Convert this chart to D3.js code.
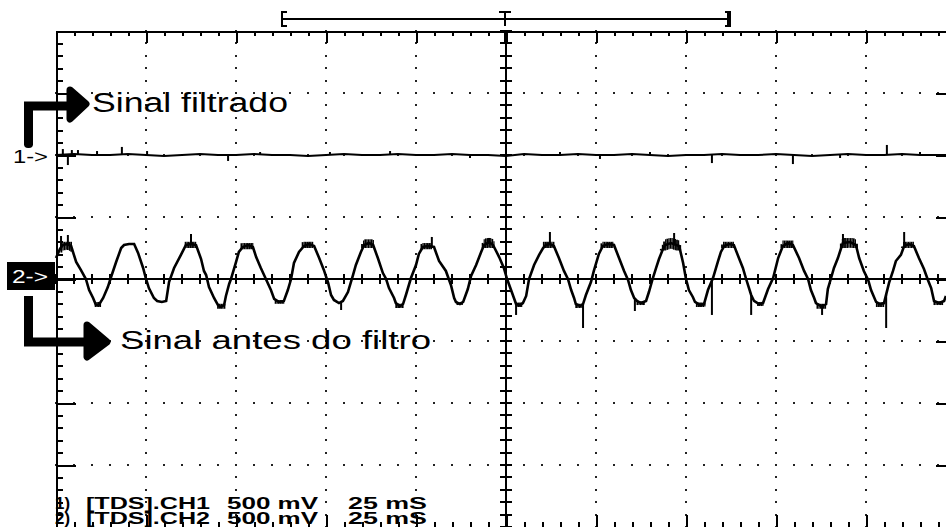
<!DOCTYPE html>
<html><head><meta charset="utf-8">
<script src="https://cdn.jsdelivr.net/npm/d3@7"></script>
<style>html,body{margin:0;padding:0;background:#fff;} svg{display:block;}</style>
</head><body>
<svg id="c" width="946" height="527"></svg>
<script>
// ---- data ----
// CH2 (signal before filter): [time ms, voltage mV]
const ch2Samples = [
[0.0,169],[1.1,242],[1.9,274],[3.1,282],[4.2,266],[5.6,137],[6.9,73],[8.3,0],[9.2,-89],[10.3,-153],[11.1,-210],[11.9,-210],[13.1,-153],[14.4,-65],[15.3,16],[16.7,137],[18.1,250],[18.9,274],[20.3,282],[21.7,282],[22.8,210],[24.2,89],[25.0,0],[25.8,-73],[27.2,-153],[28.1,-177],[29.4,-185],[30.6,-177],[31.4,-24],[32.8,89],[34.7,194],[36.1,274],[37.5,282],[38.9,274],[40.3,161],[41.1,65],[41.7,32],[42.5,-65],[43.9,-153],[45.0,-210],[45.8,-226],[46.7,-210],[47.2,-137],[48.1,-40],[48.6,0],[50.0,137],[50.8,218],[51.9,258],[53.3,274],[54.7,258],[55.6,177],[56.9,89],[58.3,0],[59.7,-89],[60.6,-161],[61.9,-185],[63.3,-177],[64.4,-89],[65.3,0],[66.1,129],[67.5,218],[68.9,266],[70.3,282],[71.7,266],[73.1,169],[74.4,73],[75.6,-32],[76.4,-129],[77.2,-169],[78.6,-194],[79.7,-177],[81.1,-105],[82.5,32],[83.3,113],[84.7,218],[85.6,274],[86.9,290],[88.1,274],[89.4,169],[90.8,48],[91.7,0],[92.5,-73],[93.9,-153],[94.4,-194],[95.6,-218],[96.4,-202],[97.2,-129],[98.6,8],[100.0,113],[100.8,202],[101.9,258],[103.3,266],[105.0,258],[106.4,145],[108.3,65],[109.7,-48],[110.6,-153],[111.1,-185],[112.2,-202],[113.1,-185],[114.4,-81],[115.3,24],[116.7,113],[118.1,218],[118.9,274],[120.3,298],[121.4,274],[123.1,177],[124.4,89],[125.3,0],[126.4,-89],[127.2,-153],[127.8,-202],[128.9,-210],[129.7,-194],[130.6,-137],[131.4,0],[132.8,113],[134.2,194],[135.3,250],[136.1,274],[137.2,282],[138.3,266],[139.7,169],[141.1,65],[142.2,0],[143.1,-89],[143.9,-153],[144.4,-202],[145.6,-218],[146.4,-202],[147.2,-129],[148.6,-24],[149.4,65],[150.8,202],[151.9,266],[153.3,282],[155.0,274],[156.4,169],[157.8,65],[158.9,-8],[159.7,-89],[160.6,-153],[161.4,-177],[162.5,-194],[163.9,-177],[164.7,-105],[165.8,8],[166.7,89],[167.5,161],[168.6,242],[169.2,274],[170.8,290],[173.1,266],[174.2,129],[175.0,0],[175.8,-89],[176.9,-145],[177.5,-185],[178.9,-210],[180.0,-202],[181.1,-89],[182.5,8],[183.9,145],[184.7,218],[185.6,266],[186.9,282],[188.3,274],[189.7,169],[190.8,89],[191.7,0],[193.1,-129],[193.9,-177],[195.3,-202],[196.4,-194],[197.8,-81],[199.2,8],[200.6,169],[201.9,266],[203.3,290],[204.7,274],[206.4,169],[207.8,65],[208.9,0],[209.7,-89],[210.6,-153],[211.1,-194],[212.5,-218],[213.9,-202],[214.4,-81],[215.3,8],[216.1,89],[217.2,169],[218.1,250],[218.6,290],[220.6,298],[222.2,274],[223.1,169],[224.4,65],[225.6,-8],[226.4,-89],[227.8,-185],[228.9,-202],[230.0,-194],[231.4,-32],[232.5,65],[233.3,145],[234.7,194],[235.6,266],[236.9,282],[238.3,266],[239.7,169],[241.1,81],[242.2,-8],[243.1,-73],[243.9,-177],[245.3,-194],[246.7,-177],[247.2,-137]
];
// CH2 glitch spikes: [time ms, tip voltage mV]
const ch2Spikes = [
[1.4,347],[3.3,355],[37.5,363],[79.2,-250],[95.3,-234],[104.4,339],[120.3,331],[127.8,-290],[137.2,379],[146.4,-395],[160.8,-258],[171.7,371],[182.2,-290],[193.1,-290],[212.8,-290],[218.6,363],[230.6,-395],[235.6,379]
];
// CH2 noise blobs (thick parts of the trace): [start ms, end ms, low mV, high mV]
const ch2Blobs = [
[1.5,4.5,210,300],[11.0,12.5,-226,-185],[36.0,39.0,250,300],[45.0,47.0,-240,-200],[51.5,55.0,240,290],[61.0,63.5,-200,-170],[68.5,71.5,250,300],[85.0,88.5,250,320],[94.5,96.5,-234,-200],[101.5,104.5,240,290],[111.5,113.0,-210,-185],[118.5,122.0,250,330],[128.0,129.5,-226,-190],[135.5,138.5,250,300],[144.5,146.5,-234,-200],[151.5,155.0,250,300],[161.5,163.5,-210,-180],[168.0,173.5,230,330],[178.0,180.5,-226,-190],[185.0,188.5,250,300],[195.0,196.5,-218,-185],[201.5,205.0,250,310],[211.5,214.0,-240,-200],[218.0,222.5,250,330],[228.0,230.0,-226,-190],[235.0,238.5,250,300],[244.0,246.5,-210,-180]
];
// CH1 (filtered signal), relative to its own ground: [time ms, mV]
const ch1Samples = [
[0,0],[5,8],[10,0],[15,0],[20,8],[25,0],[30,-8],[35,0],[40,8],[45,0],[50,0],[55,8],[60,0],[65,0],[70,-8],[75,0],[80,8],[85,0],[90,0],[95,8],[100,0],[105,0],[110,8],[115,0],[120,0],[125,-8],[130,8],[135,0],[140,0],[145,8],[150,0],[155,0],[160,8],[165,0],[170,-8],[175,0],[180,0],[185,8],[190,0],[195,0],[200,8],[205,0],[210,-8],[215,0],[220,8],[225,0],[230,0],[235,8],[240,0],[245,0],[250,0]
];
const ch1Spikes = [
[1.9,48],[3.3,-81],[4.4,40],[6.1,40],[11.4,32],[18.3,65],[25.3,32],[47.8,-48],[56.7,24],[76.1,24],[92.8,32],[115.0,-24],[140.0,24],[151.1,-32],[165.0,24],[182.2,-65],[204.7,-73],[217.8,-24],[230.8,81],[240.0,24]
];
const ch1OffsetDiv = 2;               // CH1 ground marker, divisions above centre
const mvPerDiv = 500;
const msPerDiv = 25;
const channelMarkers = ["1->", "2->"];
const traceLabels = ["Sinal filtrado", "Sinal antes do filtro"];
const statusLines = [
  ["1)", "[TDS].CH1", "500 mV", "25 mS"],
  ["2)", "[TDS].CH2", "500 mV", "25 mS"]
];

// ---- scales ----
const svg = d3.select("#c");
const x = d3.scaleLinear().domain([0, 10 * msPerDiv]).range([56, 956]);
const y = d3.scaleLinear().domain([-4 * mvPerDiv, 4 * mvPerDiv]).range([527, 31]);
const xMajor = d3.range(0, 10 * msPerDiv + 0.01, msPerDiv);
const xMinor = d3.range(0, 10 * msPerDiv + 0.01, msPerDiv / 5);
const yMajor = d3.range(-4 * mvPerDiv, 4 * mvPerDiv + 0.01, mvPerDiv);
const yMinor = d3.range(-4 * mvPerDiv, 4 * mvPerDiv + 0.01, mvPerDiv / 5);

const g = svg.append("g");

// ---- dotted grid ----
const dots = g.append("g").attr("fill", "#222");
xMajor.filter(t => t > 0 && t < 250 && t !== 125).forEach(t => {
  yMinor.forEach(v => dots.append("rect").attr("x", Math.round(x(t)) - 1).attr("y", Math.round(y(v)) - 1).attr("width", 2).attr("height", 2));
});
yMajor.filter(v => Math.abs(v) < 2000 && v !== 0).forEach(v => {
  xMinor.forEach(t => dots.append("rect").attr("x", Math.round(x(t)) - 1).attr("y", Math.round(y(v)) - 1).attr("width", 2).attr("height", 2));
});

// ---- border axes with ticks ----
function styleAxis(sel) {
  sel.selectAll("text").remove();
  sel.selectAll("line").attr("stroke", "#000").attr("stroke-width", 2);
  sel.select(".domain").attr("stroke", "#000").attr("stroke-width", 2);
  sel.attr("shape-rendering", "crispEdges");
}
const isMajorX = t => Math.abs(t / msPerDiv - Math.round(t / msPerDiv)) < 1e-6;
const isMajorY = v => Math.abs(v / mvPerDiv - Math.round(v / mvPerDiv)) < 1e-6;

g.append("g").attr("transform", "translate(0,31)")
  .call(d3.axisBottom(x).tickValues(xMinor.filter(t => !isMajorX(t))).tickSize(5).tickSizeOuter(0)).call(styleAxis);
g.append("g").attr("transform", "translate(0,31)")
  .call(d3.axisBottom(x).tickValues(xMajor).tickSize(12).tickSizeOuter(0)).call(styleAxis);
g.append("g").attr("transform", "translate(0,527)")
  .call(d3.axisTop(x).tickValues(xMinor.filter(t => !isMajorX(t))).tickSize(5).tickSizeOuter(0)).call(styleAxis);
g.append("g").attr("transform", "translate(0,527)")
  .call(d3.axisTop(x).tickValues(xMajor).tickSize(12).tickSizeOuter(0)).call(styleAxis);
g.append("g").attr("transform", "translate(56,0)")
  .call(d3.axisRight(y).tickValues(yMinor.filter(v => !isMajorY(v))).tickSize(7).tickSizeOuter(0)).call(styleAxis);
g.append("g").attr("transform", "translate(56,0)")
  .call(d3.axisRight(y).tickValues(yMajor).tickSize(20).tickSizeOuter(0)).call(styleAxis);
g.append("g").attr("transform", "translate(956,0)")
  .call(d3.axisLeft(y).tickValues(yMinor.filter(v => !isMajorY(v))).tickSize(7).tickSizeOuter(0)).call(styleAxis);
g.append("g").attr("transform", "translate(956,0)")
  .call(d3.axisLeft(y).tickValues(yMajor).tickSize(20).tickSizeOuter(0)).call(styleAxis);

// ---- centre cross with ticks ----
const cx = x(125), cy = y(0);
const cross = g.append("g").attr("stroke", "#000").attr("shape-rendering", "crispEdges");
cross.append("line").attr("x1", x(0)).attr("x2", x(250)).attr("y1", cy).attr("y2", cy).attr("stroke-width", 2);
cross.append("line").attr("x1", cx).attr("x2", cx).attr("y1", y(2000)).attr("y2", y(-2000)).attr("stroke-width", 2);
xMinor.forEach(t => cross.append("line").attr("x1", x(t)).attr("x2", x(t)).attr("y1", cy - 5).attr("y2", cy + 5).attr("stroke-width", 2));
yMinor.forEach(v => cross.append("line").attr("x1", cx - 6).attr("x2", cx + 6).attr("y1", y(v)).attr("y2", y(v)).attr("stroke-width", 2));
cross.append("rect").attr("x", cx - 2).attr("y", y(2000)).attr("width", 4).attr("height", 12).attr("fill", "#000").attr("stroke", "none");

// ---- traces ----
const line = d3.line().x(d => x(d[0])).y(d => d[1]);
function baseAt(samples, t) {
  const i = d3.bisector(d => d[0]).left(samples, t);
  if (i <= 0) return samples[0][1];
  if (i >= samples.length) return samples[samples.length - 1][1];
  const a = samples[i - 1], b = samples[i];
  return a[1] + (b[1] - a[1]) * (t - a[0]) / (b[0] - a[0]);
}
const ch1Y = v => y(v + ch1OffsetDiv * mvPerDiv);
g.append("path").attr("d", line(ch1Samples.map(d => [d[0], ch1Y(d[1])])))
  .attr("fill", "none").attr("stroke", "#000").attr("stroke-width", 2);
ch1Spikes.forEach(s => g.append("line").attr("x1", x(s[0])).attr("x2", x(s[0]))
  .attr("y1", ch1Y(baseAt(ch1Samples, s[0]))).attr("y2", ch1Y(s[1])).attr("stroke", "#000").attr("stroke-width", 2));

g.append("path").attr("d", line(ch2Samples.map(d => [d[0], y(d[1])])))
  .attr("fill", "none").attr("stroke", "#000").attr("stroke-width", 2.6).attr("stroke-linejoin", "miter");
ch2Spikes.forEach(s => g.append("line").attr("x1", x(s[0])).attr("x2", x(s[0]))
  .attr("y1", y(baseAt(ch2Samples, s[0]))).attr("y2", y(s[1])).attr("stroke", "#000").attr("stroke-width", 2));
// noise blobs: vertical hatch of short strokes, clipped to the band around the trace
ch2Blobs.forEach(b => {
  const ts = d3.range(b[0], b[1] + 0.01, 0.45);
  ts.forEach((t, i) => {
    const base = baseAt(ch2Samples, t);
    const lo = Math.max(b[2], base - 45), hi = Math.min(b[3], base + 45);
    if (hi > lo) g.append("line").attr("x1", x(t)).attr("x2", x(t)).attr("y1", y(lo)).attr("y2", y(hi))
      .attr("stroke", "#000").attr("stroke-width", i % 2 ? 1.2 : 1.8);
  });
});

// ---- channel markers ----
const font = "'Liberation Sans', Arial, sans-serif";
svg.append("text").attr("x", 13).attr("y", ch1Y(0) + 8).attr("font-family", font).attr("font-size", 18)
  .attr("textLength", 35).attr("lengthAdjust", "spacingAndGlyphs").text(channelMarkers[0]);
svg.append("rect").attr("x", 7).attr("y", y(0) - 17).attr("width", 48).attr("height", 28).attr("fill", "#000");
svg.append("text").attr("x", 12).attr("y", y(0) + 4).attr("font-family", font).attr("font-size", 18).attr("fill", "#fff")
  .attr("textLength", 36).attr("lengthAdjust", "spacingAndGlyphs").text(channelMarkers[1]);

// ---- annotation arrows ----
const arr = svg.append("g").attr("stroke", "#000").attr("fill", "#000").attr("stroke-linejoin", "round").attr("stroke-linecap", "round");
arr.append("path").attr("d", "M28.5,145 L28.5,106 L78,106").attr("fill", "none").attr("stroke-width", 9).attr("stroke-linejoin", "miter").attr("stroke-linecap", "butt");
arr.append("path").attr("d", "M70,90 L86,104 L70,119 Z").attr("stroke-width", 7);
arr.append("path").attr("d", "M28.5,296 L28.5,342 L100,342").attr("fill", "none").attr("stroke-width", 9).attr("stroke-linejoin", "miter").attr("stroke-linecap", "butt");
arr.append("path").attr("d", "M87,325 L107,342 L87,357 Z").attr("stroke-width", 7);
arr.append("rect").attr("x", 24).attr("y", 140).attr("width", 9).attr("height", 8).attr("rx", 4).attr("stroke", "none");

svg.append("text").attr("x", 92).attr("y", 112).attr("font-family", font).attr("font-size", 27)
  .attr("textLength", 196).attr("lengthAdjust", "spacingAndGlyphs").text(traceLabels[0]);
svg.append("text").attr("x", 120).attr("y", 349).attr("font-family", font).attr("font-size", 26)
  .attr("textLength", 311).attr("lengthAdjust", "spacingAndGlyphs").text(traceLabels[1]);

// ---- status lines ----
const colX = [55, 86, 227, 348], colW = [15, 124, 91, 79];
statusLines.forEach((row, r) => {
  row.forEach((txt, c) => {
    svg.append("text").attr("x", colX[c]).attr("y", 509 + r * 15).attr("font-family", font)
      .attr("font-size", 16).attr("font-weight", "bold").attr("textLength", colW[c])
      .attr("lengthAdjust", "spacingAndGlyphs").text(txt);
  });
});

// ---- trigger / record bracket at top ----
const br = svg.append("g").attr("stroke", "#000").attr("fill", "none").attr("shape-rendering", "crispEdges");
br.append("line").attr("x1", 282).attr("x2", 730).attr("y1", 19).attr("y2", 19).attr("stroke-width", 2);
br.append("path").attr("d", "M287,12 L282,12 L282,26 L287,26").attr("stroke-width", 2);
br.append("path").attr("d", "M499,12 L511,12 M505,12 L505,26").attr("stroke-width", 2);
br.append("path").attr("d", "M725,12 L730,12 L730,26 L725,26").attr("stroke-width", 2);
br.append("line").attr("x1", 729).attr("x2", 729).attr("y1", 12).attr("y2", 26).attr("stroke-width", 4);
</script>
</body></html>
